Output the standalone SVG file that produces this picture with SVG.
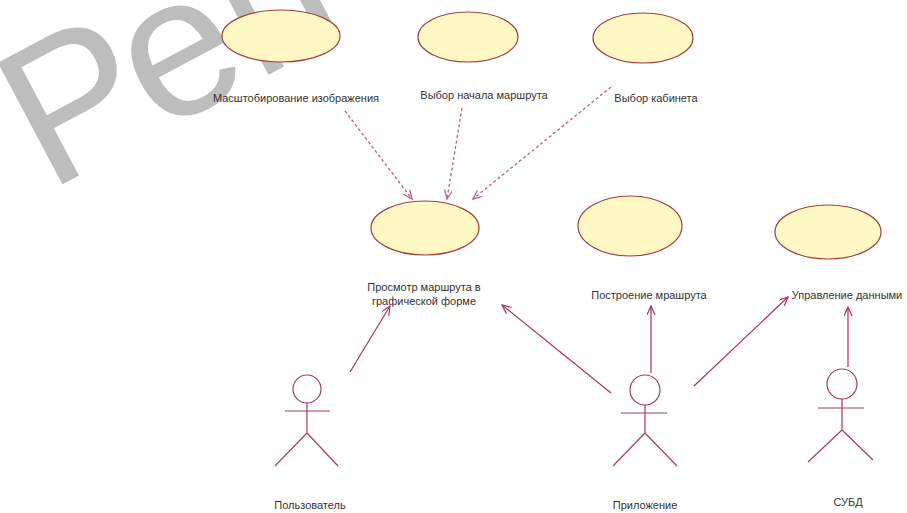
<svg xmlns="http://www.w3.org/2000/svg" width="907" height="513" viewBox="0 0 907 513">
<defs>
<style>
.uc{fill:#fff8c4;stroke:#a04040;stroke-width:1.2}
.lbl{font-family:"Liberation Sans",Arial,sans-serif;font-size:11px;fill:#333;text-anchor:middle}
.act{fill:none;stroke:#a83a5e;stroke-width:1.2}
.assoc{fill:none;stroke:#b03060;stroke-width:1.2}
.dep{fill:none;stroke:#c05c86;stroke-width:1.3;stroke-dasharray:3 2.5}
.wm{font-family:"Liberation Sans",Arial,sans-serif;font-size:200px;fill:#bdbdbd}
</style>
<marker id="open" markerWidth="10" markerHeight="10" refX="9" refY="4" orient="auto" markerUnits="userSpaceOnUse">
<path d="M0,0 L9,4 L0,8" fill="none" stroke="#b03060" stroke-width="1.2"/>
</marker>
<marker id="openDep" markerWidth="10" markerHeight="10" refX="9" refY="4" orient="auto" markerUnits="userSpaceOnUse">
<path d="M0,0 L9,4 L0,8" fill="none" stroke="#c05c86" stroke-width="1.3"/>
</marker>
</defs>
<rect width="907" height="513" fill="#fff"/>
<text class="wm" transform="translate(48,192) rotate(-28)">Реп</text>

<g id="uc-scale">
<ellipse class="uc" cx="281" cy="36" rx="59" ry="26"/>
<text class="lbl" x="296" y="102">Масштобирование изображения</text>
</g>
<g id="uc-start">
<ellipse class="uc" cx="468" cy="37" rx="50" ry="25"/>
<text class="lbl" x="484" y="99">Выбор начала маршрута</text>
</g>
<g id="uc-cabinet">
<ellipse class="uc" cx="643" cy="38" rx="50" ry="25"/>
<text class="lbl" x="656" y="102">Выбор кабинета</text>
</g>
<g id="uc-view">
<ellipse class="uc" cx="425" cy="228" rx="54" ry="27"/>
<text class="lbl" x="424" y="291">Просмотр маршрута в</text>
<text class="lbl" x="424" y="305">графической форме</text>
</g>
<g id="uc-build">
<ellipse class="uc" cx="630" cy="226" rx="52" ry="30"/>
<text class="lbl" x="649" y="299">Построение мрашрута</text>
</g>
<g id="uc-data">
<ellipse class="uc" cx="828" cy="232" rx="53" ry="27"/>
<text class="lbl" x="847" y="299">Управление данными</text>
</g>

<g id="actor-user">
<circle class="act" cx="307" cy="389" r="14"/>
<path class="act" d="M285,411 H330 M307,403 V433 L275,466 M307,433 L338,466"/>
<text class="lbl" x="310" y="509">Пользователь</text>
</g>
<g id="actor-app">
<circle class="act" cx="645" cy="390" r="15"/>
<path class="act" d="M621,413 H667 M645,405 V433 L613,466 M645,433 L677,466"/>
<text class="lbl" x="645" y="509">Приложение</text>
</g>
<g id="actor-dbms">
<circle class="act" cx="842" cy="384" r="15"/>
<path class="act" d="M818,408 H864 M842,399 V430 L808,462 M842,430 L873,460"/>
<text class="lbl" x="848" y="506">СУБД</text>
</g>

<g id="connectors">
<line class="dep" x1="345" y1="111" x2="412" y2="199" marker-end="url(#openDep)"/>
<line class="dep" x1="462" y1="108" x2="447" y2="199" marker-end="url(#openDep)"/>
<line class="dep" x1="611" y1="87" x2="473" y2="199" marker-end="url(#openDep)"/>
<line class="assoc" x1="350" y1="372" x2="390" y2="306" marker-end="url(#open)"/>
<line class="assoc" x1="611" y1="393" x2="502" y2="305" marker-end="url(#open)"/>
<line class="assoc" x1="651" y1="373" x2="651" y2="306" marker-end="url(#open)"/>
<line class="assoc" x1="694" y1="386" x2="788" y2="297" marker-end="url(#open)"/>
<line class="assoc" x1="848" y1="367" x2="848" y2="307" marker-end="url(#open)"/>
</g>
</svg>
